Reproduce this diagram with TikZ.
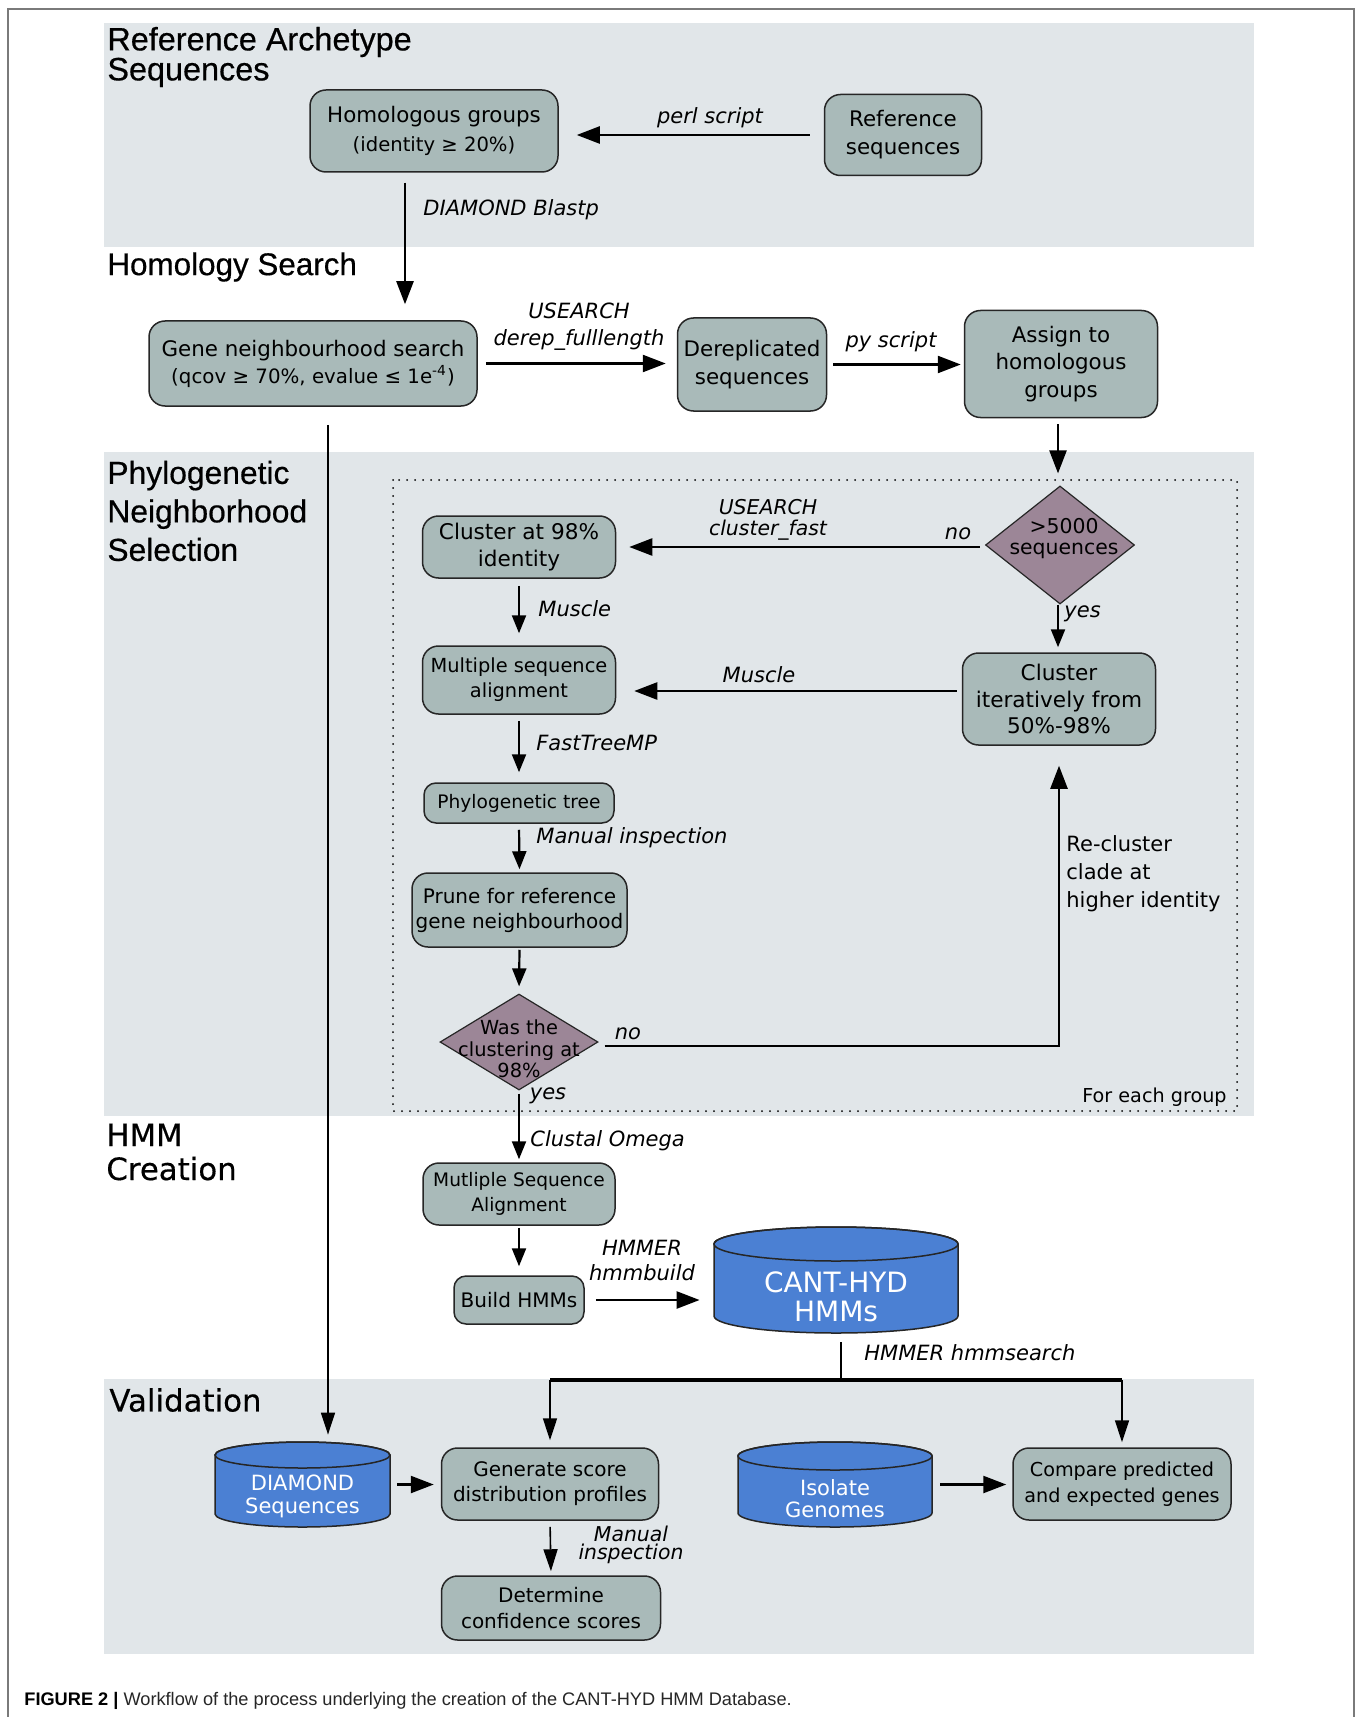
\documentclass[tikz,border=0pt]{standalone}
\usepackage{fontspec}
\setmainfont{DejaVu Sans}
\newfontfamily\titlefont[FakeBold=0.5]{Liberation Sans}
\newfontfamily\titlefontb[FakeBold=0.4]{DejaVu Sans}
\newfontfamily\capfont{Liberation Sans}
\usetikzlibrary{arrows.meta,shapes.geometric}
\definecolor{bandc}{HTML}{E1E6E9}
\definecolor{boxc}{HTML}{A9BAB9}
\definecolor{diac}{HTML}{9C8697}
\definecolor{cylc}{HTML}{4B80D3}
\definecolor{edgec}{HTML}{262626}
\definecolor{framec}{HTML}{7A7A7A}
\newcommand\setfs[2]{\fontsize{#1}{#2}\selectfont}
\begin{document}
\begin{tikzpicture}[x=0.5pt,y=-0.5pt,
  box/.style={draw=edgec, line width=0.75pt, fill=boxc, rounded corners=8pt, align=center, inner sep=0pt, font=\setfs{10.5}{13.75}},
  dia/.style={diamond, draw=edgec, line width=0.6pt, fill=diac, inner sep=0pt},
  dtext/.style={align=center, inner sep=0pt, font=\setfs{10.2}{10.5}},
  lab/.style={inner sep=0pt, font=\itshape\setfs{10.5}{13.5}},
  plain/.style={inner sep=0pt, font=\setfs{10.5}{14}},
  ttl/.style={anchor=west, inner sep=0pt, align=left},
  cylbody/.style={fill=cylc, draw=edgec, line width=0.75pt},
  cyltxt/.style={text=white, align=center, inner sep=0pt},
  hold/.style={inner sep=0pt},
  arr/.style={line width=1.2pt, -{Triangle[length=11.5pt,width=8.5pt]}},
  sarr/.style={line width=1.1pt, -{Triangle[length=9pt,width=7pt]}},
  tarr/.style={line width=0.8pt, -{Triangle[length=11pt,width=7pt]}},
  dotbox/.style={line width=1pt, line cap=round, dash pattern=on 0pt off 4pt},
]
\useasboundingbox (0,0) rectangle (1363,1717);
\fill[white] (0,0) rectangle (1363,1717);
% frame
\draw[framec, line width=0.7pt] (8,1717) -- (8,9) -- (1354,9) -- (1354,1717);
% bands
\fill[bandc] (104,23) rectangle (1254,247);
\fill[bandc] (104,452) rectangle (1254,1116);
\fill[bandc] (104,1379) rectangle (1254,1654);
\draw[dotbox] (393,480) rectangle (1237,1111);

% titles
\node[ttl, font=\titlefont\setfs{16.2}{15}] (t1) at (107,57) {Reference Archetype\\Sequences};
\node[ttl, font=\titlefont\setfs{15.7}{18}] (t2) at (107,267) {Homology Search};
\node[ttl, font=\titlefont\setfs{15.9}{19.25}] (t3) at (107,511) {Phylogenetic\\Neighborhood\\Selection};
\node[ttl, font=\titlefontb\setfs{15.4}{17}] (t4) at (106,1152) {HMM\\Creation};
\node[ttl, font=\titlefontb\setfs{15.4}{18}] (t5) at (109,1400) {Validation};

% boxes
\node[box, minimum width=124pt, minimum height=41pt, font=\setfs{10.7}{14.5}] (hom) at (434,131) {Homologous groups\\{\setfs{9.8}{14.5}(identity ≥ 20\%)}};
\node[box, minimum width=78.5pt, minimum height=40.5pt, font=\setfs{10.7}{14}] (ref) at (903,135) {Reference\\sequences};
\node[box, minimum width=164pt, minimum height=42.5pt, font=\setfs{10.7}{13.5}] (gene) at (313,363.5) {Gene neighbourhood search\\{\setfs{9.9}{13.5}(qcov ≥ 70\%, evalue ≤ 1e\textsuperscript{-4})}};
\node[box, minimum width=74.5pt, minimum height=46.5pt, font=\setfs{10.7}{14}] (derep) at (752,364.5) {Dereplicated\\sequences};
\node[box, minimum width=96.5pt, minimum height=53.5pt, font=\setfs{10.7}{13.75}] (assign) at (1061,364) {Assign to\\homologous\\groups};

\node[dia, minimum width=74.5pt, minimum height=59pt] (d1) at (1060,545) {};
\node[dtext] (d1t) at (1064,539) {>5000\\sequences};

\node[box, minimum width=96.5pt, minimum height=31pt, font=\setfs{10.8}{13.5}] (c98) at (519,547) {Cluster at 98\%\\identity};
\node[box, minimum width=96.5pt, minimum height=34pt, font=\setfs{9.7}{12.5}] (msa) at (519,680) {Multiple sequence\\alignment};
\node[box, minimum width=96.5pt, minimum height=46pt, font=\setfs{10.8}{13.25}] (clit) at (1059,699) {Cluster\\iteratively from\\50\%-98\%};
\node[box, minimum width=95pt, minimum height=20pt, rounded corners=6pt, font=\setfs{9.3}{12}] (tree) at (519,803) {Phylogenetic tree};
\node[box, minimum width=107.5pt, minimum height=37pt, font=\setfs{10}{12.5}] (prune) at (519.5,910) {Prune for reference\\gene neighbourhood};

\node[dia, minimum width=79pt, minimum height=48pt] (d2) at (519,1042) {};
\node[dtext, font=\setfs{9.7}{10.75}] (d2t) at (519,1049) {Was the\\clustering at\\98\%};

\node[box, minimum width=96pt, minimum height=31pt, font=\setfs{9.3}{12.25}] (msa2) at (519,1194) {Mutliple Sequence\\Alignment};
\node[box, minimum width=65pt, minimum height=24pt, rounded corners=6pt, font=\setfs{10}{12}] (build) at (519,1300) {Build HMMs};

% CANT-HYD cylinder
\filldraw[cylbody] (714,1244) -- (714,1316) arc[start angle=180,end angle=360,x radius=61pt,y radius=8.5pt] -- (958,1244) arc[start angle=0,end angle=180,x radius=61pt,y radius=8.5pt] -- cycle;
\draw[edgec, line width=0.75pt] (836,1244) ellipse[x radius=61pt,y radius=8.5pt];
\node[hold, minimum width=122pt, minimum height=53pt] (cant) at (836,1280) {};
\node[cyltxt, font=\setfs{14}{14.5}] (canttxt) at (836,1297) {CANT-HYD\\HMMs};

% DIAMOND Sequences cylinder
\filldraw[cylbody] (215,1455) -- (215,1514) arc[start angle=180,end angle=360,x radius=43.75pt,y radius=6.5pt] -- (390,1455) arc[start angle=0,end angle=180,x radius=43.75pt,y radius=6.5pt] -- cycle;
\draw[edgec, line width=0.75pt] (302.5,1455) ellipse[x radius=43.75pt,y radius=6.5pt];
\node[hold, minimum width=87.5pt, minimum height=42.5pt] (dsq) at (302.5,1484.5) {};
\node[cyltxt, font=\setfs{10.5}{11.5}] (dsqtxt) at (302.5,1496) {DIAMOND\\Sequences};

% Isolate Genomes cylinder
\filldraw[cylbody] (738,1456) -- (738,1513) arc[start angle=180,end angle=360,x radius=48.5pt,y radius=7pt] -- (932,1456) arc[start angle=0,end angle=180,x radius=48.5pt,y radius=7pt] -- cycle;
\draw[edgec, line width=0.75pt] (835,1456) ellipse[x radius=48.5pt,y radius=7pt];
\node[hold, minimum width=97pt, minimum height=42.5pt] (iso) at (835,1484.5) {};
\node[cyltxt, font=\setfs{10.5}{11}] (isotxt) at (835,1499) {Isolate\\Genomes};

\node[box, minimum width=108.5pt, minimum height=36pt, font=\setfs{10}{12.5}] (gen) at (550,1484) {Generate score\\distribution profiles};
\node[box, minimum width=109.5pt, minimum height=32pt, font=\setfs{10}{13}] (det) at (551,1608) {Determine\\confidence scores};
\node[box, minimum width=109pt, minimum height=36pt, font=\setfs{9.6}{13}] (cmp) at (1122,1484) {Compare predicted\\and expected genes};

% connectors
\draw[arr, shorten <=7pt, shorten >=9pt] (ref.west) -- (ref.west -| hom.east);
\draw[arr, shorten <=5pt, shorten >=8pt] ([xshift=-14.5pt]hom.south) -- ([xshift=-14.5pt]hom.south |- gene.north);
\draw[arr, shorten <=4pt, shorten >=5.5pt] (gene.east) -- (gene.east -| derep.west);
\draw[arr, shorten <=3pt, shorten >=1.5pt] (derep.east) -- (derep.east -| assign.west);
\draw[arr, shorten <=3pt, shorten >=6pt] ([xshift=-1.5pt]assign.south) -- ([xshift=-1.5pt]assign.south |- d1.north);
\draw[arr, shorten <=2.5pt, shorten >=6.5pt] ([yshift=-1pt]d1.west) -- ([yshift=-1pt]d1.west -| c98.east);
\draw[sarr, shorten <=3.5pt, shorten >=6pt] (c98.south) -- (msa.north);
\draw[sarr, shorten >=2.5pt] ([xshift=-1pt]d1.south) -- ([xshift=-1pt]d1.south |- clit.north);
\draw[arr, shorten <=2.5pt, shorten >=9pt] ([yshift=4pt]clit.west) -- ([yshift=4pt]clit.west -| msa.east);
\draw[sarr, shorten <=3pt, shorten >=5pt] (msa.south) -- (tree.north);
\draw[sarr, shorten <=3pt, shorten >=1.5pt] (tree.south) -- (prune.north);
\draw[sarr, shorten <=1pt, shorten >=3.5pt] (prune.south) -- (d2.north);
\draw[arr, shorten <=3pt, shorten >=10pt] ([yshift=-2pt]d2.east) -- ([yshift=-2pt]d2.east -| clit.south) -- (clit.south);
\draw[sarr, shorten <=1.5pt, shorten >=1.5pt] (d2.south) -- (msa2.north);
\draw[sarr, shorten <=1pt, shorten >=4.5pt] (msa2.south) -- (build.north);
\draw[arr, shorten <=5.5pt, shorten >=7pt] (build.east) -- (build.east -| cant.west);
\coordinate (split) at (841,1380);
\draw[line width=0.9pt, shorten <=4.5pt] ([xshift=2.5pt]cant.south) -- (split);
\draw[line width=1.6pt] (gen.north |- split) -- (cmp.north |- split);
\draw[tarr, shorten >=3.5pt] (gen.north |- split) -- (gen.north);
\draw[tarr, shorten >=2.5pt] (cmp.north |- split) -- (cmp.north);
\draw[tarr, shorten <=9pt, shorten >=3.5pt] ([xshift=7.5pt]gene.south) -- ([xshift=7.5pt]gene.south |- dsq.north);
\draw[arr, shorten <=3.5pt, shorten >=3.5pt] (dsq.east) -- (dsq.east -| gen.west);
\draw[tarr, shorten <=3pt, shorten >=2pt] (gen.south) -- (det.north);
\draw[arr, shorten <=4pt, shorten >=3pt] (iso.east) -- (iso.east -| cmp.west);

% labels
\node[lab] (lperl) at (710,118) {perl script};
\node[lab, anchor=west] (lblast) at (423,210) {DIAMOND Blastp};
\node[lab, align=center] (lderep) at (579,326.5) {USEARCH\\derep\_fulllength};
\node[lab] (lpy) at (891,342) {py script};
\node[lab, align=center, font=\itshape\setfs{10.2}{10.5}] (lclf) at (768,519.5) {USEARCH\\cluster\_fast};
\node[lab] (lno1) at (958,534) {no};
\node[lab, anchor=west] (lmus1) at (538,609) {Muscle};
\node[lab, anchor=west] (lyes1) at (1064,614) {yes};
\node[lab] (lmus2) at (759,675) {Muscle};
\node[lab, anchor=west] (lftree) at (536,743) {FastTreeMP};
\node[lab, anchor=west] (lmanual) at (536,838) {Manual inspection};
\node[lab] (lno2) at (628,1034) {no};
\node[plain, anchor=west, align=left] (lrecl) at (1066,874) {Re-cluster\\clade at\\higher identity};
\node[plain, anchor=east, font=\setfs{9.6}{12}] (lfeg) at (1227,1097) {For each group};
\node[lab] (lyes2) at (548,1096) {yes};
\node[lab, anchor=west] (lclo) at (530,1141) {Clustal Omega};
\node[lab, align=center, font=\itshape\setfs{10.5}{12.5}] (lhb) at (642,1260.5) {HMMER\\hmmbuild};
\node[lab, anchor=west] (lhs) at (864,1353) {HMMER hmmsearch};
\node[lab, align=center, font=\itshape\setfs{10.2}{9}] (lmi2) at (631,1545) {Manual\\inspection};

% caption
\node[anchor=west, inner sep=0pt, font=\capfont\setfs{9.1}{10}, text=black!85] (cap) at (24,1701) {{\bfseries\color{black}FIGURE 2 |} Workflow of the process underlying the creation of the CANT-HYD HMM Database.};
\end{tikzpicture}
\end{document}
